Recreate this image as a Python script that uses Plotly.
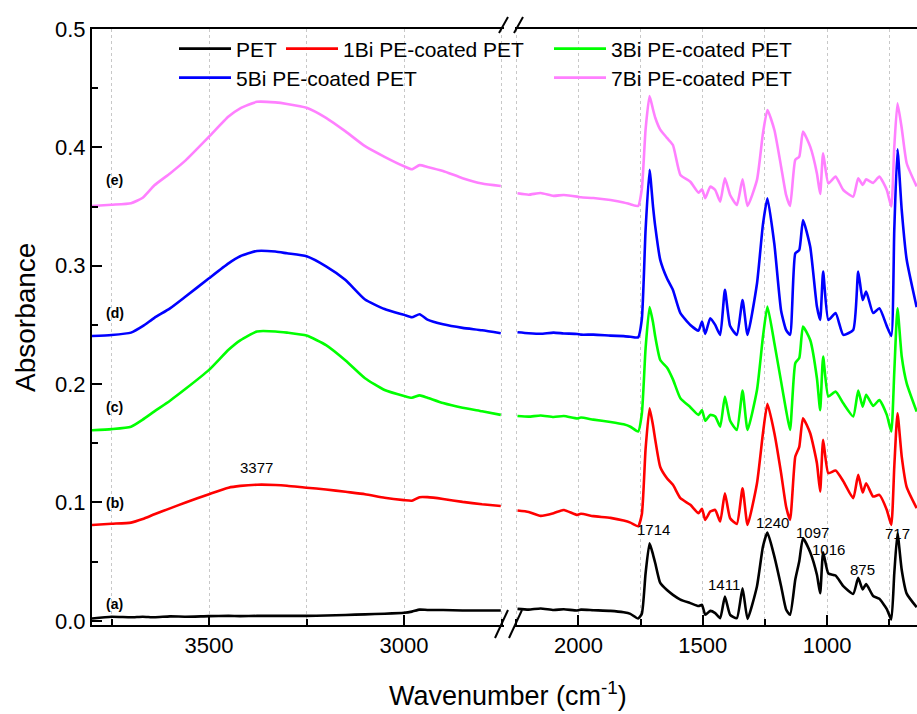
import plotly.graph_objects as go

# ---------------- data ----------------
# high-wavenumber segment (cm^-1)
wn_high = [3800, 3750, 3700, 3670, 3640, 3600, 3560, 3500, 3450, 3420, 3377, 3330,
           3300, 3250, 3200, 3150, 3100, 3050, 3000, 2980, 2960, 2940, 2900, 2850,
           2800, 2752]
pet_high = [0.0020, 0.0035, 0.0030, 0.0035, 0.0030, 0.0038, 0.0035, 0.0040, 0.0042,
            0.0040, 0.0042, 0.0042, 0.0042, 0.0042, 0.0045, 0.0050, 0.0055, 0.0060,
            0.0068, 0.0078, 0.0095, 0.0092, 0.0092, 0.0088, 0.0087, 0.0087]
bi1_high = [0.081, 0.082, 0.083, 0.086, 0.090, 0.095, 0.100, 0.107, 0.1125, 0.114,
            0.1150, 0.1148, 0.1142, 0.1125, 0.111, 0.109, 0.107, 0.104, 0.102, 0.1015,
            0.1045, 0.1045, 0.103, 0.1005, 0.0985, 0.097]
bi3_high = [0.161, 0.162, 0.164, 0.170, 0.177, 0.186, 0.196, 0.212, 0.229, 0.237,
            0.2445, 0.2445, 0.2435, 0.241, 0.233, 0.220, 0.205, 0.195, 0.190, 0.1885,
            0.1905, 0.1885, 0.184, 0.180, 0.177, 0.174]
bi5_high = [0.2407, 0.2415, 0.2435, 0.249, 0.256, 0.264, 0.274, 0.2894, 0.302, 0.308,
            0.3125, 0.312, 0.3105, 0.308, 0.2995, 0.288, 0.2715, 0.2635, 0.2585, 0.2565,
            0.259, 0.2545, 0.2505, 0.2475, 0.2455, 0.243]
bi7_high = [0.3505, 0.3515, 0.3528, 0.3575, 0.368, 0.378, 0.389, 0.409, 0.426, 0.433,
            0.4385, 0.438, 0.4367, 0.4335, 0.425, 0.4135, 0.401, 0.392, 0.384, 0.3815,
            0.385, 0.3835, 0.380, 0.374, 0.3695, 0.3674]

# fingerprint segment (cm^-1)
wn_low = [2245, 2200, 2152, 2100, 2059, 2005, 1990, 1940, 1871, 1818, 1791, 1760,
          1745, 1730, 1714, 1700, 1691, 1671, 1644, 1620, 1590, 1550, 1517, 1503,
          1490, 1470, 1450, 1430, 1411, 1390, 1363, 1340, 1320, 1282, 1258, 1240,
          1212, 1185, 1165, 1149, 1128, 1112, 1097, 1068, 1041, 1028, 1016, 995,
          966, 935, 895, 875, 857, 843, 815, 790, 760, 742, 730, 717, 700, 680, 640]
pet_low = [0.0101, 0.0095, 0.0105, 0.0092, 0.0098, 0.0088, 0.0095, 0.0090, 0.0084,
           0.0072, 0.0059, 0.0020, 0.0060, 0.0400, 0.0656, 0.0560, 0.0487, 0.0320,
           0.0260, 0.0220, 0.0180, 0.0150, 0.0125, 0.0135, 0.0051, 0.0084, 0.0065,
           0.0023, 0.0205, 0.0051, 0.0023, 0.0276, 0.0017, 0.0293, 0.0628, 0.0746,
           0.0543, 0.0293, 0.0096, 0.0051, 0.0349, 0.0504, 0.0698, 0.0580, 0.0389,
           0.0233, 0.0580, 0.0400, 0.0383, 0.0293, 0.0228, 0.0363, 0.0265, 0.0310,
           0.0210, 0.0186, 0.0100, 0.0011, 0.0400, 0.0740, 0.0430, 0.0230, 0.0115]
bi1_low = [0.0932, 0.0920, 0.0887, 0.0910, 0.0937, 0.0895, 0.0905, 0.0885, 0.0870,
           0.0847, 0.0830, 0.0800, 0.0900, 0.1450, 0.1796, 0.1650, 0.1529, 0.1300,
           0.1205, 0.1149, 0.1036, 0.0980, 0.0910, 0.0946, 0.0853, 0.0923, 0.0937,
           0.0839, 0.1078, 0.0867, 0.0819, 0.1120, 0.0811, 0.1163, 0.1585, 0.1833,
           0.1585, 0.1247, 0.0966, 0.0853, 0.1388, 0.1470, 0.1712, 0.1585, 0.1332,
           0.1092, 0.1529, 0.1247, 0.1270, 0.1180, 0.1036, 0.1233, 0.1084, 0.1163,
           0.1050, 0.1064, 0.0937, 0.0811, 0.1300, 0.1754, 0.1388, 0.1130, 0.0952]
bi3_low = [0.1730, 0.1725, 0.1735, 0.1722, 0.1730, 0.1710, 0.1718, 0.1700, 0.1680,
           0.1660, 0.1640, 0.1600, 0.1750, 0.2300, 0.2650, 0.2520, 0.2400, 0.2204,
           0.2140, 0.2040, 0.1880, 0.1805, 0.1740, 0.1780, 0.1690, 0.1740, 0.1727,
           0.1640, 0.1895, 0.1690, 0.1613, 0.1945, 0.1613, 0.1950, 0.2400, 0.2655,
           0.2345, 0.2021, 0.1780, 0.1613, 0.2177, 0.2220, 0.2486, 0.2373, 0.2050,
           0.1780, 0.2233, 0.1895, 0.1937, 0.1838, 0.1727, 0.1945, 0.1810, 0.1909,
           0.1815, 0.1866, 0.1740, 0.1600, 0.2100, 0.2640, 0.2233, 0.2006, 0.1768]
bi5_low = [0.2438, 0.2430, 0.2425, 0.2435, 0.2428, 0.2424, 0.2418, 0.2418, 0.2410,
           0.2405, 0.2400, 0.2395, 0.2550, 0.3300, 0.3810, 0.3500, 0.3330, 0.3050,
           0.2894, 0.2796, 0.2600, 0.2500, 0.2452, 0.2528, 0.2424, 0.2557, 0.2500,
           0.2416, 0.2796, 0.2490, 0.2416, 0.2710, 0.2416, 0.2850, 0.3350, 0.3570,
           0.3180, 0.2620, 0.2458, 0.2416, 0.3105, 0.3133, 0.3387, 0.3160, 0.2655,
           0.2542, 0.2950, 0.2542, 0.2600, 0.2416, 0.2458, 0.2950, 0.2710, 0.2782,
           0.2600, 0.2640, 0.2490, 0.2407, 0.3300, 0.3983, 0.3470, 0.3050, 0.2650]
bi7_low = [0.3612, 0.3600, 0.3615, 0.3590, 0.3598, 0.3584, 0.3578, 0.3572, 0.3555,
           0.3535, 0.3520, 0.3505, 0.3650, 0.4150, 0.4434, 0.4320, 0.4250, 0.4150,
           0.4080, 0.4020, 0.3767, 0.3710, 0.3618, 0.3646, 0.3570, 0.3668, 0.3640,
           0.3542, 0.3739, 0.3598, 0.3514, 0.3730, 0.3505, 0.3725, 0.4119, 0.4316,
           0.4147, 0.3837, 0.3598, 0.3505, 0.3894, 0.3922, 0.4133, 0.4006, 0.3780,
           0.3606, 0.3950, 0.3696, 0.3753, 0.3640, 0.3584, 0.3739, 0.3683, 0.3730,
           0.3700, 0.3753, 0.3640, 0.3500, 0.4000, 0.4372, 0.4161, 0.3866, 0.3670]

series_names = ["PET", "1Bi PE-coated PET", "3Bi PE-coated PET",
                "5Bi PE-coated PET", "7Bi PE-coated PET"]
series_colors = ["#000000", "#FF0000", "#00FF00", "#0000FF", "#FF80FF"]
series_high = [pet_high, bi1_high, bi3_high, bi5_high, bi7_high]
series_low = [pet_low, bi1_low, bi3_low, bi5_low, bi7_low]
series_tags = ["(a)", "(b)", "(c)", "(d)", "(e)"]

# PET band assignments written on the lowest spectrum
band_wn = [1714, 1411, 1240, 1097, 1016, 875, 717]
oh_band_wn = 3377

# ---------------- styling ----------------
W, H = 917, 714
ML, MR, MT, MB = 92, 0, 29, 89
PW, PH = W - ML - MR, H - MT - MB

def px_x(px):
    return (px - ML) / PW

def px_y(py):
    return (H - MB - py) / PH

FONT = "Arial, Liberation Sans, sans-serif"
HIGH_RANGE = [3800, 2745]
LOW_RANGE = [2255, 638.6]
HIGH_DOM = [0, px_x(503.5)]
LOW_DOM = [px_x(515), 1]

# label offsets (pixels) relative to the point they annotate
tag_yshift = [13, 21, 22, 22, 25]
band_shift = [(4, 14), (-1, 12), (5, 10), (9, 6), (5, 3), (4, 8), (0, 0)]

legend_rows = ["legend", "legend", "legend", "legend2", "legend2"]
legend_widths = [40, 201, None, 308, None]

fig = go.Figure()
for i in range(5):
    line_style = dict(color=series_colors[i], width=2.6, shape="spline", smoothing=0.5)
    fig.add_trace(go.Scatter(
        x=wn_high, y=series_high[i], xaxis="x", yaxis="y",
        mode="lines", line=line_style,
        name=series_names[i], legendgroup=series_names[i], showlegend=False,
        hoverinfo="skip"))
    fig.add_trace(go.Scatter(
        x=wn_low, y=series_low[i], xaxis="x2", yaxis="y",
        mode="lines", line=line_style,
        name=series_names[i], legendgroup=series_names[i], showlegend=True,
        legend=legend_rows[i], legendwidth=legend_widths[i],
        hoverinfo="skip"))

axis_common = dict(
    showline=True, linecolor="black", linewidth=2, mirror=True,
    ticks="inside", ticklen=10, tickwidth=2, tickcolor="black",
    dtick=500, tick0=0,
    tickfont=dict(family=FONT, size=22, color="black"),
    showgrid=True, gridcolor="#c8c8c8", gridwidth=1, griddash="dot",
    minor=dict(dtick=250, tick0=0, ticks="inside", ticklen=6, tickwidth=2,
               tickcolor="black", showgrid=True, gridcolor="#c8c8c8",
               griddash="dot", gridwidth=1),
    zeroline=False, fixedrange=True,
)

legend_common = dict(orientation="h", x=px_x(174), xanchor="left", yanchor="middle",
                     bgcolor="rgba(0,0,0,0)", borderwidth=0, itemwidth=52,
                     font=dict(family=FONT, size=21, color="black"),
                     tracegroupgap=0, itemclick=False, itemdoubleclick=False)

fig.update_layout(
    width=W, height=H,
    margin=dict(l=ML, r=MR, t=MT, b=MB, pad=0),
    paper_bgcolor="white", plot_bgcolor="white",
    font=dict(family=FONT, color="black"),
    xaxis=dict(domain=HIGH_DOM, range=HIGH_RANGE, anchor="y", **axis_common),
    xaxis2=dict(domain=LOW_DOM, range=LOW_RANGE, anchor="y", **axis_common),
    yaxis=dict(range=[-0.0035, 0.5], anchor="x", dtick=0.1, tick0=0,
               tickformat=".1f", showline=True, linecolor="black", linewidth=2,
               ticks="inside", ticklen=10, tickwidth=2, tickcolor="black",
               minor=dict(dtick=0.05, ticks="inside", ticklen=6, tickwidth=2,
                          tickcolor="black"),
               tickfont=dict(family=FONT, size=22, color="black"),
               showgrid=False, zeroline=False, fixedrange=True),
    legend=dict(y=px_y(49), **legend_common),
    legend2=dict(y=px_y(78), **legend_common),
    showlegend=True,
)

annotations = []
# axis titles
annotations.append(dict(text="Wavenumber (cm<sup>-1</sup>)", xref="paper", yref="paper",
                        x=px_x(508), y=px_y(694), xanchor="center", yanchor="middle",
                        showarrow=False, font=dict(family=FONT, size=27, color="black")))
annotations.append(dict(text="Absorbance", xref="paper", yref="paper",
                        x=px_x(25), y=px_y(318), xanchor="center", yanchor="middle",
                        textangle=-90, showarrow=False,
                        font=dict(family=FONT, size=28, color="black")))

# spectrum tags just above each curve at the left edge
for tag, vals, dy in zip(series_tags, series_high, tag_yshift):
    annotations.append(dict(text="<b>%s</b>" % tag, x=3742, y=vals[1], xref="x", yref="y",
                            yshift=dy, showarrow=False,
                            font=dict(family=FONT, size=14, color="black")))

# band labels on the PET spectrum
for wn, (dx, dy) in zip(band_wn, band_shift):
    v = pet_low[wn_low.index(wn)]
    annotations.append(dict(text=str(wn), x=wn, y=v, xref="x2", yref="y",
                            xshift=dx, yshift=dy, showarrow=False,
                            font=dict(family=FONT, size=15, color="black")))
annotations.append(dict(text=str(oh_band_wn), x=oh_band_wn,
                        y=bi1_high[wn_high.index(oh_band_wn)], xref="x", yref="y",
                        yshift=17, showarrow=False,
                        font=dict(family=FONT, size=15, color="black")))
fig.update_layout(annotations=annotations)

# axis-break marks on bottom and top axes
shapes = []
for (x0, y0, x1, y1) in [(495, 638, 508, 610), (509, 638, 522, 610),
                         (499, 33, 508, 17), (514, 33, 523, 17)]:
    shapes.append(dict(type="line", xref="paper", yref="paper",
                       x0=px_x(x0), y0=px_y(y0), x1=px_x(x1), y1=px_y(y1),
                       line=dict(color="black", width=2)))
fig.update_layout(shapes=shapes)

fig.write_html("out.html")
